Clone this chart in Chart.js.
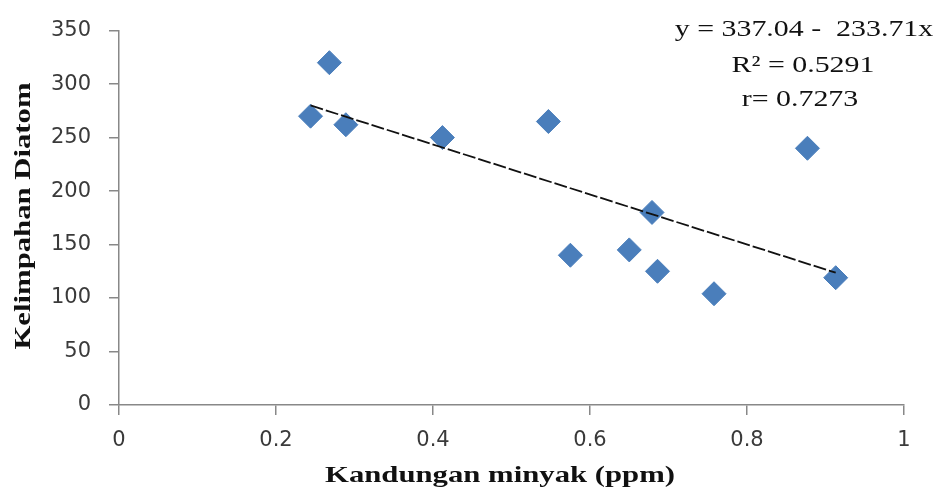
<!DOCTYPE html>
<html>
<head>
<meta charset="utf-8">
<script src="https://cdn.jsdelivr.net/npm/chart.js@4.4.0/dist/chart.umd.min.js"></script>
<style>
html,body{margin:0;padding:0;background:#fff;}
#wrap{width:945px;height:490px;position:relative;}
</style>
</head>
<body>
<div id="wrap"><canvas id="c"></canvas></div>
<script>
// Data
const oilPpm = [0.244, 0.268, 0.289, 0.412, 0.547, 0.575, 0.650, 0.679, 0.686, 0.758, 0.877, 0.913];
const diatomAbundance = [270, 320, 262, 250, 265, 140, 145, 180, 125, 104, 240, 119];
const regIntercept = 337.04;
const regSlope = -233.71;
const equationLines = ["y = 337.04 -  233.71x", "R\u00b2 = 0.5291", "r= 0.7273"];
const xTitle = "Kandungan minyak (ppm)";
const yTitle = "Kelimpahan Diatom";

const scatterPts = oilPpm.map((x, i) => ({x: x, y: diatomAbundance[i]}));
const xMin = Math.min(...oilPpm), xMax = Math.max(...oilPpm);
const trendPts = [xMin, xMax].map(x => ({x: x, y: regIntercept + regSlope * x}));

const textPlugin = {
  id: 'texts',
  afterDraw(chart) {
    const ctx = chart.ctx;
    const stretch = (txt, x, y, font, sx, rot) => {
      ctx.save();
      ctx.translate(x, y);
      if (rot) ctx.rotate(rot);
      ctx.scale(sx, 1);
      ctx.font = font;
      ctx.fillStyle = '#111';
      ctx.textAlign = 'center';
      ctx.textBaseline = 'middle';
      ctx.fillText(txt, 0, 0);
      ctx.restore();
    };
    stretch(xTitle, 500, 476, 'bold 24px "Liberation Serif"', 1.28, 0);
    stretch(yTitle, 24, 216, 'bold 24px "Liberation Serif"', 1.28, -Math.PI / 2);
    const eqY = [30, 66, 100];
    const eqX = [804, 803, 800];
    equationLines.forEach((t, i) => stretch(t, eqX[i], eqY[i], '23px "Liberation Serif"', 1.3, 0));
  }
};

const tickFont = {family: 'DejaVu Sans', size: 21};

new Chart(document.getElementById('c'), {
  type: 'scatter',
  data: {
    datasets: [
      {
        label: 'data',
        data: scatterPts,
        pointStyle: 'rectRot',
        pointRadius: 12,
        pointHoverRadius: 12,
        backgroundColor: '#4a7ebb',
        borderColor: '#4a7ebb',
        borderWidth: 1,
        order: 2
      },
      {
        label: 'trend',
        type: 'line',
        data: trendPts,
        borderColor: '#111',
        borderWidth: 1.8,
        borderDash: [13, 3],
        pointRadius: 0,
        fill: false,
        order: 1
      }
    ]
  },
  options: {
    responsive: true,
    maintainAspectRatio: false,
    animation: false,
    events: [],
    layout: {padding: {top: 24, right: 41, left: 0, bottom: 0}},
    plugins: {legend: {display: false}, tooltip: {enabled: false}},
    scales: {
      x: {
        type: 'linear',
        min: 0, max: 1,
        ticks: {stepSize: 0.2, color: '#3a3a3a', padding: 13, font: tickFont,
          callback: v => String(Math.round(v * 10) / 10)},
        grid: {drawOnChartArea: false, drawTicks: true, tickLength: 10, color: '#888', lineWidth: 1.5},
        border: {display: true, color: '#888', width: 1.5},
        afterFit(s) { s.height = 85; }
      },
      y: {
        type: 'linear',
        min: 0, max: 350,
        ticks: {stepSize: 50, color: '#3a3a3a', padding: 18, font: tickFont},
        grid: {drawOnChartArea: false, drawTicks: true, tickLength: 10, color: '#888', lineWidth: 1.5},
        border: {display: true, color: '#888', width: 1.5},
        afterFit(s) { s.width = 119; }
      }
    }
  },
  plugins: [textPlugin]
});
</script>
</body>
</html>
